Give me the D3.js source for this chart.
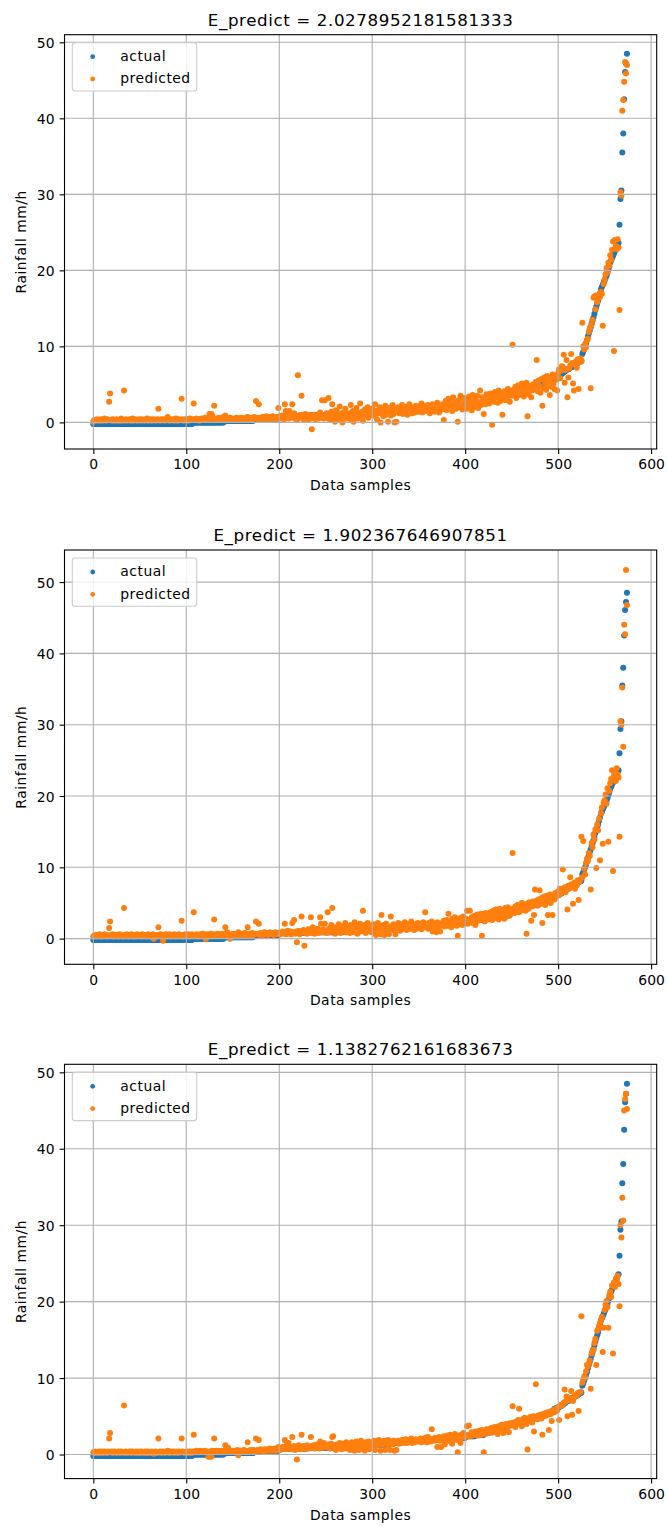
<!DOCTYPE html>
<meta charset="utf-8">
<style>

body {
  margin: 0;
  background: #fff;
}

text {
  font-family: "DejaVu Sans", sans-serif;
  fill: #000;
}

.tick text {
  font-size: 13.9px;
  letter-spacing: 0.15px;
}

.tick line {
  stroke: #000;
  stroke-width: 1.1px;
}

.grid line {
  stroke: #b0b0b0;
  stroke-width: 1.1px;
}

.frame {
  fill: none;
  stroke: #000;
  stroke-width: 1.1px;
}

.title {
  font-size: 16.7px;
  letter-spacing: 0.6px;
}

.label, .legend text {
  font-size: 13.9px;
  letter-spacing: 0.5px;
}

</style>

<svg width="668" height="1526"></svg>

<script src="https://d3js.org/d3.v7.min.js"></script>
<script>

// sorted actual rainfall, one value per data sample
var actual = [
-0.2,-0.2,-0.2,-0.2,-0.2,-0.2,-0.2,-0.2,-0.2,-0.2,-0.2,-0.2,-0.2,-0.2,-0.2,-0.2,-0.2,-0.2,-0.2,-0.2,-0.2,-0.2,-0.2,-0.2,-0.2,
-0.2,-0.2,-0.2,-0.2,-0.2,-0.2,-0.2,-0.2,-0.2,-0.2,-0.2,-0.2,-0.2,-0.2,-0.2,-0.2,-0.2,-0.2,-0.2,-0.2,-0.2,-0.2,-0.2,-0.2,-0.2,
-0.2,-0.2,-0.2,-0.2,-0.2,-0.2,-0.2,-0.2,-0.2,-0.2,-0.2,-0.2,-0.2,-0.2,-0.2,-0.2,-0.2,-0.2,-0.2,-0.2,-0.2,-0.2,-0.2,-0.2,-0.2,
-0.2,-0.2,-0.2,-0.2,-0.2,-0.2,-0.2,-0.2,-0.2,-0.2,-0.2,-0.2,-0.2,-0.2,-0.2,-0.2,-0.2,-0.2,-0.2,-0.2,-0.2,-0.2,-0.2,-0.2,-0.2,
-0.2,-0.2,-0.2,-0.2,-0.2,-0.2,-0.2,0,0,0,0,0,0,0,0,0,0,0,0,0,0,0,0,0,0,
0,0,0,0,0,0,0,0,0,0,0,0,0,0,0,0,0.2,0.2,0.2,0.2,0.2,0.2,0.2,0.2,0.2,
0.2,0.2,0.2,0.2,0.2,0.2,0.2,0.2,0.2,0.2,0.2,0.2,0.2,0.2,0.2,0.2,0.2,0.2,0.2,0.2,0.2,0.2,0.2,0.5,0.5,
0.5,0.5,0.5,0.5,0.5,0.5,0.5,0.5,0.5,0.5,0.5,0.5,0.5,0.5,0.5,0.5,0.5,0.5,0.5,0.5,0.5,0.5,0.5,0.5,0.5,
0.6,0.8,0.8,0.8,0.8,0.8,0.8,0.8,0.8,0.8,0.8,0.8,0.8,0.8,0.8,0.8,0.8,0.8,0.8,0.8,0.8,0.8,0.8,0.8,0.8,
0.8,0.8,0.8,0.8,0.8,0.8,0.9,0.9,0.9,0.9,0.9,0.9,0.9,0.9,0.9,0.9,0.9,0.9,0.9,0.9,0.9,0.9,0.9,0.9,0.9,
0.9,0.9,0.9,0.9,0.9,0.9,0.9,0.9,0.9,0.9,0.9,1.0,1.0,1.0,1.0,1.0,1.0,1.0,1.0,1.0,1.0,1.0,1.0,1.0,1.0,
1.0,1.0,1.0,1.0,1.0,1.0,1.1,1.1,1.1,1.1,1.1,1.1,1.1,1.1,1.1,1.1,1.1,1.1,1.1,1.1,1.1,1.1,1.1,1.1,1.1,
1.1,1.3,1.3,1.3,1.3,1.3,1.3,1.3,1.3,1.3,1.3,1.3,1.3,1.3,1.3,1.3,1.5,1.5,1.5,1.5,1.5,1.5,1.5,1.5,1.5,
1.5,1.5,1.5,1.5,1.5,1.5,1.7,1.7,1.7,1.7,1.7,1.7,1.7,1.7,1.7,1.7,1.7,1.7,1.7,1.7,1.7,1.8,1.8,1.8,1.8,
1.8,1.8,1.8,1.8,1.8,1.8,1.8,1.8,1.8,1.8,1.8,1.9,1.9,1.9,1.9,1.9,1.9,1.9,1.9,1.9,1.9,1.9,1.9,1.9,1.9,
1.9,2.1,2.1,2.1,2.1,2.1,2.1,2.1,2.1,2.1,2.1,2.1,2.1,2.1,2.1,2.1,2.2,2.2,2.2,2.2,2.2,2.2,2.2,2.2,2.2,
2.2,2.4,2.4,2.4,2.4,2.4,2.4,2.4,2.4,2.4,2.4,2.6,2.6,2.6,2.6,2.6,2.6,2.6,2.6,2.6,2.6,2.9,2.9,2.9,2.9,
2.9,2.9,2.9,2.9,2.9,2.9,3.3,3.3,3.4,3.4,3.5,3.5,3.6,3.6,3.7,3.7,3.8,3.8,3.8,3.9,3.9,3.9,4.0,4.0,4.0,
4.0,4.1,4.1,4.1,4.2,4.2,4.2,4.2,4.3,4.3,4.3,4.4,4.4,4.4,4.4,4.5,4.5,4.5,4.5,4.6,4.6,4.6,4.6,4.7,4.7,
4.7,4.8,4.8,4.9,4.9,4.9,5.0,5.0,5.0,5.1,5.1,5.2,5.3,5.3,5.4,5.4,5.5,5.6,5.6,5.7,5.8,6.0,6.0,6.1,6.1,
6.2,6.2,6.3,6.3,6.4,6.5,6.6,6.7,6.8,6.9,7.0,7.0,7.1,7.2,7.3,7.3,7.4,7.5,7.6,7.7,7.7,7.8,7.9,8.0,8.0,
8.1,9.0,9.3,9.7,10.0,10.4,10.8,11.3,11.7,12.1,12.5,13.0,13.4,13.8,14.3,14.8,15.2,15.6,16.0,16.5,17.0,17.5,17.8,18.1,18.4,
18.7,19.0,19.3,19.7,20.1,20.5,21.0,21.3,21.6,21.9,22.2,22.5,22.8,23.1,23.4,23.6,26.0,29.4,30.5,35.5,38.0,42.5,46.1,47.2,48.5
];

var predicted1 = [
0.1,0.3,0.2,0.3,0.4,0.2,0.3,0.2,0.4,0.3,0.2,0.3,0.5,0.3,0.2,0.4,0.3,2.7,3.8,0.3,0.2,0.4,0.3,0.2,0.3,
0.4,0.2,0.3,0.3,0.2,0.5,0.3,0.2,4.2,0.3,0.4,0.2,0.3,0.3,0.4,0.2,0.3,0.5,0.2,0.3,0.4,0.3,0.2,0.3,0.4,
0.3,0.2,0.4,0.3,0.3,0.2,0.4,0.3,0.5,0.2,0.3,0.3,0.4,0.2,0.3,0.4,0.3,0.2,0.3,0.4,1.8,0.3,0.2,0.4,0.3,
0.3,0.4,0.2,0.3,0.5,0.7,0.3,0.2,0.4,0.3,0.3,0.4,0.2,0.3,0.5,0.3,0.2,0.4,0.3,0.3,3.1,0.4,0.2,0.3,0.4,
0.3,0.4,0.2,0.3,0.5,0.3,0.4,0.3,2.5,0.4,0.3,0.5,0.3,0.4,0.2,0.4,0.5,0.3,0.4,0.3,0.6,0.4,0.3,0.5,0.4,
1.1,0.9,1.1,0.8,0.4,2.2,0.3,0.5,0.4,0.3,0.6,0.4,0.5,0.3,0.4,0.7,0.5,0.9,0.4,0.3,0.5,0.4,0.6,0.3,0.4,
0.5,0.4,0.3,0.5,0.6,0.4,0.3,0.5,0.4,0.6,0.3,0.5,0.4,0.4,0.6,0.5,0.7,0.4,0.5,0.3,0.6,0.4,0.5,0.7,0.5,
2.8,0.5,0.6,2.4,0.4,0.6,0.5,0.7,0.4,0.6,0.5,0.8,0.5,0.6,0.4,0.7,0.5,0.6,0.8,0.5,0.6,0.4,0.7,0.6,1.9,
0.6,0.8,0.5,0.9,0.7,0.4,2.4,1.5,0.6,0.9,0.5,1.5,0.8,0.6,2.4,0.7,1.2,0.5,0.9,0.3,6.2,0.8,0.6,1.0,3.5,
0.7,0.4,0.9,1.1,0.6,0.8,0.3,1.0,0.7,0.5,-0.9,0.8,0.6,1.0,0.4,0.7,0.9,0.5,1.1,1.3,0.6,2.9,0.8,0.5,2.9,
0.8,1.2,0.5,3.2,0.9,0.3,1.4,2.4,0.7,1.0,0.1,1.6,0.8,0.4,1.2,2.1,0.6,1.0,0.0,1.3,0.8,1.8,0.5,1.1,0.9,
1.2,0.4,2.3,0.9,1.5,0.1,1.1,0.7,1.9,1.3,0.5,1.0,2.5,0.8,1.4,0.2,1.2,1.7,0.9,1.1,2.0,0.6,1.3,1.0,1.6,
1.8,0.9,1.5,2.4,1.1,0.4,1.6,1.2,2.0,0.0,1.4,1.7,0.8,1.3,2.2,1.0,1.6,0.1,1.9,1.2,0.9,1.5,2.3,1.1,0.0,
1.7,0.1,1.4,2.0,1.2,1.8,1.5,2.3,1.1,1.9,1.6,1.3,2.1,1.0,1.7,2.4,1.4,1.8,1.2,2.0,1.6,1.3,2.2,1.5,1.9,
1.4,2.1,1.7,2.5,1.3,1.9,2.2,1.6,2.0,1.5,2.3,1.8,1.2,2.1,1.7,2.4,1.9,1.4,2.2,1.6,2.6,1.8,1.3,2.0,2.3,
1.7,2.4,0.3,2.0,2.8,1.6,2.3,3.1,1.9,2.6,2.2,1.5,3.3,2.1,2.7,1.8,2.5,0.1,2.9,2.0,3.5,2.4,1.7,3.2,2.6,
2.2,3.0,1.8,2.7,3.4,2.1,2.9,1.6,3.6,2.4,3.1,2.0,2.8,3.5,1.9,2.6,4.2,2.3,3.3,2.7,1.1,3.0,2.4,3.7,2.9,
3.2,2.5,3.8,2.9,-0.3,3.6,2.7,4.0,3.1,3.5,2.6,4.2,3.3,2.8,3.9,1.0,3.4,4.1,2.9,3.7,3.2,4.4,3.6,2.7,4.0,
3.5,10.2,4.3,3.8,4.7,3.2,4.1,4.9,3.6,4.4,3.9,5.1,4.2,3.4,4.6,4.0,5.2,0.8,3.7,4.5,4.8,3.3,4.2,5.0,4.4,
4.6,5.3,8.2,4.1,5.5,4.8,3.9,5.7,2.2,4.5,5.9,5.2,4.3,6.1,4.9,5.4,3.6,5.8,4.7,6.3,5.1,4.4,6.0,5.6,4.2,
6.5,7.0,5.8,6.8,7.4,7.3,8.9,5.2,6.9,8.2,3.3,5.9,7.1,7.5,9.0,7.8,5.1,4.2,7.6,8.0,7.2,8.3,4.4,7.9,8.4,
8.0,13.1,10.0,9.6,10.3,9.9,10.8,11.0,11.9,12.4,4.5,12.9,13.5,16.4,16.6,14.9,16.7,15.8,16.3,16.8,16.5,17.2,16.9,12.7,18.2,
18.8,19.5,20.3,19.8,21.0,20.6,22.0,21.4,22.7,23.8,9.4,24.0,23.2,22.8,24.1,23.0,14.8,30.3,29.8,41.0,42.4,44.8,47.4,45.9,47.0
];

var predicted2 = [
0.3,0.4,0.5,0.4,0.3,0.5,0.4,0.6,0.4,0.3,0.5,0.4,0.6,0.4,0.5,0.3,0.4,1.5,2.4,0.5,0.4,0.6,0.3,0.5,0.4,
0.5,0.4,0.3,0.6,0.4,0.5,0.4,0.3,4.3,0.5,0.4,0.6,0.4,0.3,0.5,0.4,0.6,0.5,0.4,0.3,0.5,0.4,0.6,0.4,0.5,
0.4,0.5,0.3,0.6,0.4,0.5,0.4,0.3,0.5,0.6,0.4,0.5,0.3,0.4,0.6,0.0,0.5,0.4,0.3,0.5,1.6,0.4,0.6,0.5,0.4,
-0.3,0.5,0.4,0.6,0.3,0.5,0.4,0.6,0.5,0.3,0.4,0.5,0.6,0.4,0.3,0.5,0.4,0.6,0.5,0.4,2.5,0.3,0.5,0.4,0.6,
0.5,0.4,0.6,0.3,0.5,0.4,0.6,0.5,3.7,0.4,0.5,0.6,0.4,0.3,0.5,0.6,0.4,0.5,0.7,0.4,0.5,-0.1,0.6,0.4,0.5,
0.6,0.4,0.7,0.5,0.4,2.7,0.6,0.5,0.4,0.7,0.5,0.6,0.4,0.5,0.7,0.6,0.4,1.6,0.5,0.9,0.6,0.4,0.0,0.5,0.6,
0.5,0.7,0.4,0.6,0.5,0.7,0.9,0.4,0.6,0.5,0.7,0.6,0.4,0.8,0.5,0.6,1.6,0.5,0.7,0.4,0.6,0.8,0.5,0.6,0.7,
2.4,0.6,0.7,2.1,0.5,0.8,0.6,0.7,0.5,0.9,0.6,0.7,0.8,0.5,0.6,0.9,0.7,0.6,0.8,0.5,0.7,0.9,0.6,0.8,0.7,
0.8,0.6,0.9,0.7,1.0,0.8,2.1,0.6,0.9,1.1,0.7,0.8,1.0,0.6,2.2,0.9,2.6,0.7,1.0,-0.5,0.8,1.1,0.6,0.9,3.1,
0.9,1.2,-1.0,0.8,1.0,0.7,1.3,0.9,1.1,3.0,0.8,1.6,1.0,0.7,1.2,0.9,1.4,0.8,1.1,3.0,2.1,0.9,1.3,1.0,2.1,
1.1,0.8,3.7,1.3,0.9,1.5,1.9,4.3,1.0,1.2,0.7,1.6,1.1,0.9,2.0,1.3,0.8,1.4,1.7,1.0,1.2,2.2,0.9,1.5,1.1,
1.4,0.8,1.9,1.2,1.6,0.9,2.3,1.1,1.5,0.7,1.8,1.3,2.1,1.0,1.6,3.9,1.2,1.9,0.8,1.4,2.2,1.1,1.7,1.3,0.9,
1.5,2.0,1.2,1.7,0.5,1.4,2.2,1.0,1.8,0.6,3.3,1.3,1.9,0.5,1.6,2.1,1.1,1.7,0.6,1.4,3.1,1.8,1.2,2.0,1.5,
0.6,1.9,1.4,2.2,1.6,1.1,2.0,1.5,1.8,1.3,2.3,1.7,1.2,2.1,1.6,1.9,1.4,2.4,1.5,1.8,1.2,2.0,1.7,1.4,2.2,
1.8,1.5,2.1,1.3,1.9,2.3,1.6,3.7,1.7,2.0,1.4,2.2,1.8,1.5,2.4,1.0,1.9,2.1,1.6,0.9,2.3,1.7,2.0,1.0,1.8,
2.2,1.9,2.5,1.7,2.1,2.6,1.8,3.5,2.0,2.4,1.6,2.8,2.2,1.9,3.0,2.3,1.8,0.4,2.6,2.1,2.9,2.4,1.9,3.1,2.5,
2.3,2.8,3.9,2.1,2.6,3.9,2.4,3.0,2.2,2.7,3.2,1.9,2.9,3.4,2.5,3.1,2.6,3.5,0.4,2.8,3.3,2.4,3.6,3.0,2.7,
3.3,2.8,3.7,3.1,2.6,3.9,3.4,2.9,4.1,3.2,3.6,2.7,4.2,3.5,3.0,4.0,3.3,2.8,4.3,3.7,3.1,4.4,3.6,3.2,4.1,
3.8,12.0,4.2,3.6,4.5,3.9,4.7,4.1,3.7,4.6,4.3,5.0,4.0,4.8,4.4,3.9,0.7,4.9,4.2,5.1,4.6,2.5,4.5,5.2,3.3,
6.9,4.8,5.3,4.6,5.5,6.8,4.9,5.7,2.2,5.1,5.9,4.7,5.4,6.0,3.3,5.6,6.2,5.0,5.8,3.3,6.1,5.5,6.4,5.9,6.3,
6.6,6.1,7.0,6.4,6.9,9.7,6.8,7.2,6.5,6.9,4.1,7.4,7.1,8.6,7.6,7.3,4.9,7.8,7.0,7.9,7.5,8.2,5.4,8.0,8.3,
14.3,8.6,13.7,9.8,9.0,10.6,11.2,10.9,12.0,11.6,6.9,13.4,12.8,14.6,13.9,15.3,9.9,16.0,15.2,16.8,11.0,17.6,18.4,13.3,19.1,
19.4,20.2,18.9,21.1,13.6,20.7,21.8,22.4,23.6,9.5,22.9,23.3,22.1,23.9,23.0,22.6,14.3,30.5,30.0,35.2,26.9,44.0,42.7,51.7,46.8
];

var predicted3 = [
0.3,0.2,0.4,0.3,0.2,0.3,0.4,0.2,0.3,0.4,0.3,0.2,0.4,0.3,0.3,0.2,0.4,2.1,2.8,0.3,0.4,0.2,0.3,0.4,0.3,
0.2,0.3,0.4,0.3,0.2,0.4,0.3,0.3,6.4,0.2,0.4,0.3,0.2,0.3,0.4,0.3,0.2,0.4,0.3,0.3,0.2,0.4,0.3,0.2,0.4,
0.3,0.2,0.4,0.3,0.3,0.2,0.4,0.3,0.2,0.4,0.3,0.3,0.2,0.4,0.3,0.1,0.3,0.4,0.2,0.3,2.1,0.3,0.4,0.2,0.3,
0.4,0.3,0.2,0.3,0.4,0.5,0.3,0.2,0.4,0.3,0.3,0.4,0.2,0.3,0.4,0.3,0.2,0.4,0.3,0.3,2.1,0.4,0.3,0.2,0.3,
0.3,0.4,0.2,0.3,0.4,0.3,0.2,0.4,2.6,0.3,0.4,0.5,0.3,0.4,0.3,0.5,0.4,0.3,0.4,0.3,0.5,0.4,0.3,0.4,-0.3,
-0.3,0.4,-0.3,0.5,0.3,2.1,0.4,0.5,0.3,0.4,0.5,0.3,0.4,0.5,0.4,0.3,0.5,1.2,0.4,0.6,0.9,0.4,0.5,0.3,0.4,
0.5,0.4,0.3,0.5,0.4,0.6,-0.1,0.4,0.5,0.3,0.5,0.4,0.6,0.4,0.5,0.3,1.6,0.5,0.4,0.6,0.5,0.4,0.6,0.5,0.4,
2.1,0.5,0.6,1.9,0.5,0.7,0.5,0.6,0.4,0.7,0.6,0.5,0.7,0.6,0.5,0.8,0.6,0.5,0.7,0.6,0.8,0.5,0.7,0.6,1.0,
0.8,0.6,0.9,0.7,1.0,0.8,1.9,0.7,1.2,0.9,1.5,0.8,1.0,0.7,2.3,0.9,1.1,0.6,1.0,-0.65,0.8,1.2,0.9,0.7,2.6,
0.9,1.1,0.7,1.0,0.8,1.2,0.9,1.0,0.8,2.3,1.1,0.9,1.2,0.8,1.0,1.3,0.9,1.1,0.8,1.7,1.0,1.2,0.9,1.5,1.1,
1.0,1.2,0.9,1.3,1.1,0.8,1.4,2.3,2.4,1.0,1.2,0.6,1.3,1.1,0.9,1.5,1.2,0.7,1.4,1.0,1.3,0.8,1.6,1.1,1.2,
1.4,0.6,1.3,1.6,1.0,1.5,0.5,1.2,1.7,1.1,1.4,0.6,1.3,1.8,1.0,1.5,1.2,0.5,1.6,1.3,1.1,1.7,0.7,1.4,1.2,
1.5,1.3,1.8,0.6,1.4,1.6,1.2,1.9,1.4,0.5,1.7,1.3,1.5,1.8,0.6,1.6,1.4,1.9,1.2,0.6,1.7,1.5,1.3,1.8,0.5,
1.6,0.6,1.5,1.8,1.4,1.7,1.6,1.9,1.5,1.8,1.6,2.0,1.5,1.7,1.9,1.6,1.8,2.1,1.5,1.7,1.9,1.6,2.0,1.8,1.7,
1.9,1.7,2.1,1.6,1.8,2.0,1.7,2.2,1.9,1.6,2.3,1.8,2.0,1.7,3.3,1.9,2.1,1.8,2.2,1.9,1.0,2.0,2.3,1.8,1.0,
2.1,1.9,2.4,1.3,2.2,2.0,2.5,1.8,2.3,2.6,2.1,1.4,2.4,2.0,2.7,2.2,1.9,0.3,2.5,2.3,1.5,2.6,2.2,2.8,2.4,
2.3,2.6,3.7,2.5,3.8,2.4,2.7,2.9,2.5,2.8,2.6,3.0,2.7,2.9,2.5,3.1,2.8,2.6,3.2,2.9,0.3,3.0,2.7,3.3,2.9,
3.1,2.8,3.4,3.0,3.5,2.9,3.3,3.6,3.1,3.4,2.7,3.7,3.2,3.5,3.9,3.3,2.8,3.8,3.6,4.0,3.4,3.7,2.9,4.1,3.8,
3.9,6.3,4.2,3.8,3.6,4.3,4.0,4.5,6.0,4.1,4.4,3.7,4.6,4.2,4.8,4.3,4.0,0.65,4.7,4.5,4.9,4.4,4.2,5.0,3.0,
4.8,9.2,5.0,4.6,5.1,4.9,5.2,4.7,2.6,5.3,5.0,5.4,5.1,5.5,5.2,3.2,5.6,5.3,4.4,5.7,5.5,5.9,5.6,6.0,5.8,
6.2,4.5,6.3,6.5,6.4,6.6,6.8,8.5,6.9,7.6,5.0,7.1,7.2,7.4,8.3,5.2,7.0,7.5,7.6,7.8,7.7,8.0,5.7,8.1,8.2,
18.1,9.4,9.8,10.2,10.1,10.9,11.7,11.5,11.9,12.3,8.6,13.2,13.6,13.7,14.6,15.1,11.7,16.2,16.4,16.8,17.2,17.6,18.0,13.4,16.6,
18.9,19.6,20.1,19.3,16.6,20.8,21.3,20.6,22.1,13.2,22.5,21.9,23.0,22.8,23.4,22.3,19.4,30.0,28.4,33.6,30.6,45.0,46.5,47.2,45.2
];

var titles = [
  "E_predict = 2.0278952181581333",
  "E_predict = 1.902367646907851",
  "E_predict = 1.1382762161683673"
];
var seriesNames = ["actual", "predicted"];
var xTicks = [0, 100, 200, 300, 400, 500, 600];
var yTicks = [0, 10, 20, 30, 40, 50];

var colors = ["#1f77b4", "#ff7f0e"];
var predictedSets = [predicted1, predicted2, predicted3];

var svg = d3.select("svg"),
    left = 64.5,
    width = 592.2,
    height = 414.3,
    panelTops = [34.7, 550, 1064.3],
    yDomains = [[-3.5, 51.0], [-3.6, 54.5], [-3.15, 51.05]];

var x = d3.scaleLinear().domain([-31, 606]).range([0, width]);

var samples = actual.map(function(d, i) { return i; });

panelTops.forEach(function(top, p) {

  var y = d3.scaleLinear().domain(yDomains[p]).range([height, 0]);
  var g = svg.append("g").attr("transform", "translate(" + left + "," + top + ")");

  g.append("g")
      .attr("transform", "translate(0," + height + ")")
      .call(d3.axisBottom(x).tickValues(xTicks).tickSize(4.9).tickPadding(5.5).tickSizeOuter(0))
      .call(function(a) { a.select(".domain").remove(); });

  g.append("g")
      .call(d3.axisLeft(y).tickValues(yTicks).tickSize(4.9).tickPadding(4.9).tickSizeOuter(0))
      .call(function(a) {
        a.select(".domain").remove();
        a.selectAll(".tick text").attr("dy", "0.36em");
      });

  // actual first, predicted on top, like the original scatter order
  [actual, predictedSets[p]].forEach(function(series, s) {
    g.append("g").selectAll("circle")
      .data(samples)
      .enter().append("circle")
        .attr("cx", function(i) { return x(i); })
        .attr("cy", function(i) { return y(series[i]); })
        .attr("r", 3.0)
        .attr("fill", colors[s]);
  });

  var grid = g.append("g").attr("class", "grid");
  grid.selectAll(".gx").data(xTicks).enter().append("line")
      .attr("x1", function(d) { return x(d); })
      .attr("x2", function(d) { return x(d); })
      .attr("y1", 0).attr("y2", height);
  grid.selectAll(".gy").data(yTicks).enter().append("line")
      .attr("x1", 0).attr("x2", width)
      .attr("y1", function(d) { return y(d); })
      .attr("y2", function(d) { return y(d); });

  g.append("rect").attr("class", "frame")
      .attr("width", width).attr("height", height);

  g.append("text").attr("class", "title")
      .attr("x", width / 2).attr("y", -9)
      .attr("text-anchor", "middle")
      .text(titles[p]);

  g.append("text").attr("class", "label")
      .attr("x", width / 2).attr("y", height + 41)
      .attr("text-anchor", "middle")
      .text("Data samples");

  g.append("text").attr("class", "label")
      .attr("transform", "translate(" + (26 - left) + "," + (height / 2) + ") rotate(-90)")
      .attr("text-anchor", "middle")
      .text("Rainfall mm/h");

  var legend = g.append("g").attr("class", "legend");
  legend.append("rect")
      .attr("x", 7.8).attr("y", 8)
      .attr("width", 124.4).attr("height", 48.3)
      .attr("rx", 2.8)
      .attr("fill", "#fff").attr("fill-opacity", 0.8)
      .attr("stroke", "#cccccc").attr("stroke-width", 1.1);

  seriesNames.forEach(function(name, s) {
    legend.append("circle")
        .attr("cx", 28.2).attr("cy", 22 + s * 22.3)
        .attr("r", 2.4)
        .attr("fill", colors[s]);
    legend.append("text")
        .attr("x", 55.8).attr("y", 26.3 + s * 22.3)
        .text(name);
  });
});

</script>
